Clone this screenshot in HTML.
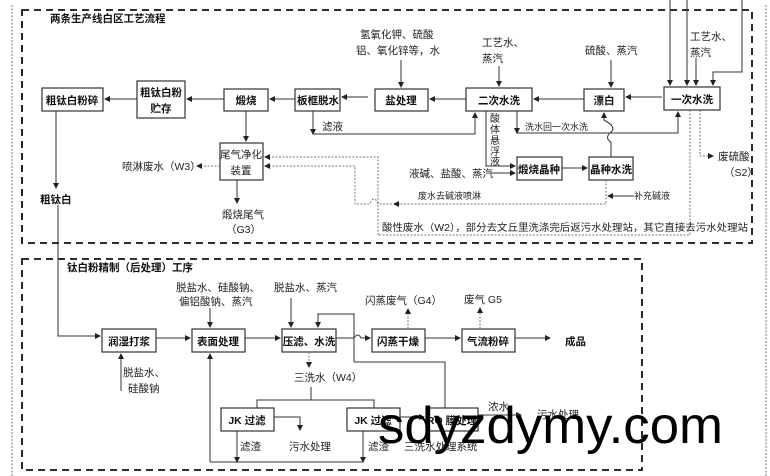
<!DOCTYPE html>
<html><head><meta charset="utf-8"><style>
body{margin:0;background:#fff}
svg{display:block}
text{font-family:"Liberation Sans","Noto Sans CJK SC",sans-serif;font-size:10.5px;fill:#222}
.b{font-weight:bold;fill:#111}
rect{fill:#fff;stroke:#333;stroke-width:1.2}
.l{stroke:#333;stroke-width:1;fill:none}
.d{stroke:#777;stroke-width:1;fill:none;stroke-dasharray:2,1.5}
.box{fill:none;stroke:#111;stroke-width:1.8;stroke-dasharray:7,5}
</style></head><body>
<svg width="770" height="476" viewBox="0 0 770 476">
<defs><marker id="a" markerWidth="6" markerHeight="6" refX="5" refY="3" orient="auto"><path d="M0,0L6,3L0,6z" fill="#222"/></marker></defs>
<line x1="12" y1="5" x2="12" y2="476" class="d"/>
<line x1="766" y1="5" x2="766" y2="476" class="d"/>
<rect x="22" y="10" width="730" height="233" class="box"/>
<rect x="22" y="259" width="620" height="211" class="box"/>
<text x="50" y="22" class="b">两条生产线白区工艺流程</text>
<text x="67" y="271" class="b">钛白粉精制（后处理）工序</text>

<rect x="42" y="88" width="61" height="23"/><text x="72" y="104" class="b" text-anchor="middle">粗钛白粉碎</text>
<rect x="137" y="81" width="48" height="37"/><text x="161" y="96" class="b" text-anchor="middle">粗钛白粉</text><text x="161" y="112" class="b" text-anchor="middle">贮存</text>
<rect x="224" y="89" width="44" height="22"/><text x="246" y="104" class="b" text-anchor="middle">煅烧</text>
<rect x="295" y="89" width="45" height="22"/><text x="318" y="104" class="b" text-anchor="middle">板框脱水</text>
<rect x="375" y="89" width="53" height="22"/><text x="401" y="104" class="b" text-anchor="middle">盐处理</text>
<rect x="466" y="88" width="66" height="23"/><text x="499" y="104" class="b" text-anchor="middle">二次水洗</text>
<rect x="584" y="89" width="40" height="22"/><text x="604" y="104" class="b" text-anchor="middle">漂白</text>
<rect x="664" y="87" width="56" height="23"/><text x="692" y="103" class="b" text-anchor="middle">一次水洗</text>
<rect x="220" y="143" width="43" height="37"/><text x="241" y="158" text-anchor="middle">尾气净化</text><text x="241" y="174" text-anchor="middle">装置</text>
<rect x="517" y="157" width="45" height="23"/><text x="539" y="173" class="b" text-anchor="middle">煅烧晶种</text>
<rect x="589" y="157" width="44" height="23"/><text x="611" y="173" class="b" text-anchor="middle">晶种水洗</text>

<line x1="137" y1="99" x2="105" y2="99" class="l" marker-end="url(#a)"/>
<line x1="224" y1="99" x2="187" y2="99" class="l" marker-end="url(#a)"/>
<line x1="295" y1="99" x2="270" y2="99" class="l" marker-end="url(#a)"/>
<line x1="368" y1="97" x2="342" y2="97" class="l" marker-end="url(#a)"/>
<line x1="466" y1="99" x2="430" y2="99" class="l" marker-end="url(#a)"/>
<line x1="584" y1="99" x2="534" y2="99" class="l" marker-end="url(#a)"/>
<line x1="662" y1="97" x2="626" y2="97" class="l" marker-end="url(#a)"/>
<line x1="246" y1="111" x2="246" y2="141" class="l" marker-end="url(#a)"/>
<line x1="56" y1="111" x2="56" y2="188" class="l" marker-end="url(#a)"/>
<text x="40" y="203" class="b">粗钛白</text>
<path d="M58,205 V336 H100" class="l" marker-end="url(#a)"/>
<path d="M313,111 V134" class="l" marker-end="url(#a)"/>
<path d="M313,134 H475 V113" class="l" marker-end="url(#a)"/>
<text x="322" y="130" font-size="9">滤液</text>
<path d="M517,111 V133 H678 V112" class="l" marker-end="url(#a)"/>
<line x1="517" y1="126" x2="517" y2="133" class="l" marker-end="url(#a)"/>
<text x="525" y="130" font-size="9" style="font-size:9px">洗水回一次水洗</text>
<path d="M611,157 V142 Q604,138 611,132 Q617,127 604,120 V113" class="l" marker-end="url(#a)"/>
<path d="M486,111 V166 H515" class="l" marker-end="url(#a)"/>
<text x="490" y="122" style="font-size:10px">酸</text><text x="490" y="133" style="font-size:10px">体</text><text x="490" y="144" style="font-size:10px">悬</text><text x="490" y="155" style="font-size:10px">浮</text><text x="490" y="165" style="font-size:10px">液</text>
<line x1="490" y1="173" x2="515" y2="173" class="l" marker-end="url(#a)"/>
<text x="409" y="177">液碱、盐酸、蒸汽</text>
<line x1="562" y1="168" x2="587" y2="168" class="l" marker-end="url(#a)"/>
<text x="360" y="38">氢氧化钾、硫酸</text><text x="356" y="54">铝、氧化锌等，水</text>
<line x1="401" y1="60" x2="401" y2="87" class="l" marker-end="url(#a)"/>
<text x="482" y="46">工艺水、</text><text x="482" y="62">蒸汽</text>
<line x1="499" y1="66" x2="499" y2="86" class="l" marker-end="url(#a)"/>
<text x="585" y="54">硫酸、蒸汽</text>
<line x1="611" y1="60" x2="611" y2="87" class="l" marker-end="url(#a)"/>
<text x="690" y="40">工艺水、</text><text x="690" y="56">蒸汽</text>
<line x1="696" y1="58" x2="696" y2="85" class="l" marker-end="url(#a)"/>
<line x1="670" y1="0" x2="670" y2="85" class="l" marker-end="url(#a)"/>
<line x1="687" y1="0" x2="687" y2="85" class="l" marker-end="url(#a)"/>
<path d="M742,0 V72 H713 V85" class="l" marker-end="url(#a)"/>
<path d="M700,110 V156 H713" class="d" marker-end="url(#a)"/>
<text x="718" y="160">废硫酸</text><text x="724" y="176">（S2）</text>
<path d="M690,110 V235 H378" class="d"/>
<path d="M378,235 V157 H265" class="d" marker-end="url(#a)"/>
<path d="M606,180 V204 H378 Q374,194 370,204 H355 V166 H265" class="d" marker-end="url(#a)"/>
<line x1="400" y1="204" x2="394" y2="204" class="d" marker-end="url(#a)"/>
<text x="418" y="199" style="font-size:9px">废水去碱液喷淋</text>
<line x1="634" y1="196" x2="608" y2="196" class="l" marker-end="url(#a)"/>
<text x="634" y="199" style="font-size:9px">补充碱液</text>
<text x="382" y="231" style="font-size:10px" textLength="366" lengthAdjust="spacingAndGlyphs">酸性废水（W2），部分去文丘里洗涤完后返污水处理站，其它直接去污水处理站</text>
<path d="M220,166 H197" class="d" marker-end="url(#a)"/>
<text x="122" y="170">喷淋废水（W3）</text>
<line x1="237" y1="180" x2="237" y2="203" class="l" marker-end="url(#a)"/>
<text x="222" y="218">煅烧尾气</text><text x="226" y="233">（G3）</text>

<rect x="102" y="329" width="54" height="23"/><text x="129" y="345" class="b" text-anchor="middle">润湿打浆</text>
<rect x="192" y="329" width="53" height="23"/><text x="218" y="345" class="b" text-anchor="middle">表面处理</text>
<rect x="282" y="329" width="54" height="23"/><text x="309" y="345" class="b" text-anchor="middle">压滤、水洗</text>
<rect x="372" y="329" width="53" height="23"/><text x="398" y="345" class="b" text-anchor="middle">闪蒸干燥</text>
<rect x="462" y="329" width="53" height="23"/><text x="488" y="345" class="b" text-anchor="middle">气流粉碎</text>
<text x="565" y="345" class="b">成品</text>
<line x1="156" y1="338" x2="190" y2="338" class="l" marker-end="url(#a)"/>
<line x1="245" y1="338" x2="280" y2="338" class="l" marker-end="url(#a)"/>
<path d="M336,338 H354 Q358,332 361,338 H370" class="l" marker-end="url(#a)"/>
<line x1="425" y1="338" x2="460" y2="338" class="l" marker-end="url(#a)"/>
<line x1="515" y1="338" x2="550" y2="338" class="l" marker-end="url(#a)"/>
<text x="176" y="291">脱盐水、硅酸钠、</text><text x="179" y="305">偏铝酸钠、蒸汽</text>
<line x1="210" y1="308" x2="210" y2="327" class="l" marker-end="url(#a)"/>
<text x="274" y="291">脱盐水、蒸汽</text>
<line x1="291" y1="298" x2="291" y2="327" class="l" marker-end="url(#a)"/>
<path d="M354,362 V314 H318 V327" class="l" marker-end="url(#a)"/>
<path d="M354,362 H445 V408" class="l"/>
<text x="365" y="304">闪蒸废气（G4）</text>
<line x1="408" y1="329" x2="408" y2="309" class="d" marker-end="url(#a)"/>
<text x="464" y="303">废气 G5</text>
<line x1="480" y1="329" x2="480" y2="308" class="d" marker-end="url(#a)"/>
<line x1="121" y1="391" x2="121" y2="354" class="l" marker-end="url(#a)"/>
<text x="123" y="376">脱盐水、</text><text x="128" y="392">硅酸钠</text>
<line x1="309" y1="352" x2="309" y2="367" class="d" marker-end="url(#a)"/>
<text x="294" y="381">三洗水（W4）</text>
<path d="M311,387 V400 H257 V408 M311,400 H374 V408" class="l"/>
<rect x="221" y="408" width="53" height="23"/><text x="247" y="424" class="b" text-anchor="middle">JK 过滤</text>
<rect x="347" y="408" width="53" height="23"/><text x="373" y="424" class="b" text-anchor="middle">JK 过滤</text>
<rect x="426" y="408" width="52" height="23"/><text x="452" y="424" class="b" text-anchor="middle">RO 膜处理</text>
<path d="M274,417 H300 V430" class="l" marker-end="url(#a)"/>
<text x="289" y="450">污水处理</text>
<text x="240" y="450">滤渣</text>
<text x="368" y="450">滤渣</text>
<text x="404" y="450">三洗水处理系统</text>
<line x1="400" y1="417" x2="424" y2="417" class="l" marker-end="url(#a)"/>
<line x1="478" y1="415" x2="521" y2="415" class="l" marker-end="url(#a)"/>
<text x="488" y="410">浓水</text><text x="537" y="418">污水处理</text>
<path d="M237,431 V462" class="l" marker-end="url(#a)"/>
<path d="M363,431 V462" class="l" marker-end="url(#a)"/>
<path d="M210,462 H363 M210,462 V354" class="l" marker-end="url(#a)"/>
<text x="378" y="443" textLength="345" lengthAdjust="spacingAndGlyphs" style="font-size:52px;fill:#000;font-family:'Liberation Sans',sans-serif">sdyzdymy.com</text>
</svg>
</body></html>
